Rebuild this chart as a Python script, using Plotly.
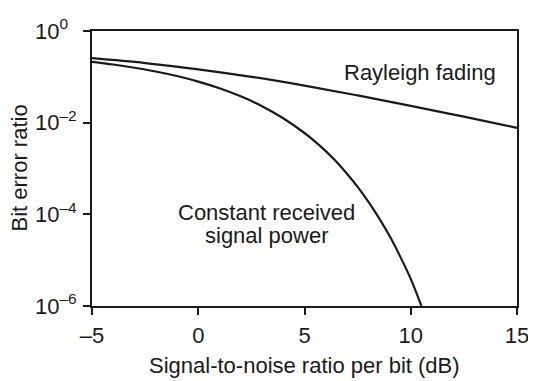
import plotly.graph_objects as go

# Data
snr_const = [-5, -4, -3, -2, -1, 0, 1, 2, 3, 4, 5, 5.5, 6, 6.5, 7, 7.5, 8, 8.5, 9, 9.5, 10, 10.5]
ber_const = [0.213, 0.186, 0.158, 0.131, 0.104, 0.0786, 0.0563, 0.0375, 0.0229, 0.0125,
             0.00595, 0.00386, 0.00239, 0.0014, 7.7e-4, 3.98e-4, 1.9e-4, 8.4e-5, 3.4e-5,
             1.21e-5, 3.9e-6, 1.0e-6]

snr_rayleigh = [-5, -2.5, 0, 2.5, 5, 7.5, 10, 12.5, 15]
ber_rayleigh = [0.255, 0.2, 0.146, 0.1, 0.0642, 0.0393, 0.0233, 0.0135, 0.0077]

x_tickvals = [-5, 0, 5, 10, 15]
x_ticktext = ["–5", "0", "5", "10", "15"]
y_tickvals = [1, 1e-2, 1e-4, 1e-6]
y_ticktext = ["10<sup>0\u00a0\u00a0</sup>", "10<sup>–2</sup>", "10<sup>–4</sup>", "10<sup>–6</sup>"]

FONT = "Liberation Sans, Arial, Helvetica, sans-serif"
FS = 22
INK = "#1a1a1a"

fig = go.Figure()
fig.add_trace(go.Scatter(x=snr_rayleigh, y=ber_rayleigh, mode="lines",
                         line=dict(color=INK, width=2.2, shape="spline"),
                         showlegend=False, hoverinfo="skip"))
fig.add_trace(go.Scatter(x=snr_const, y=ber_const, mode="lines",
                         line=dict(color=INK, width=2.2, shape="spline"),
                         showlegend=False, hoverinfo="skip"))

axis_common = dict(showgrid=False, zeroline=False, showline=True, mirror=True,
                   linecolor=INK, linewidth=2, ticks="outside", ticklen=7,
                   tickwidth=1.5, tickcolor=INK, ticklabeloverflow="allow")

# The page body has a default 8 px margin, so the figure is 8 px smaller
fig.update_layout(
    width=528, height=373,
    margin=dict(l=84, r=12, t=7, b=75),
    paper_bgcolor="white", plot_bgcolor="white",
    font=dict(family=FONT, size=FS, color=INK),
    xaxis=dict(range=[-5, 15], tickvals=x_tickvals, ticktext=x_ticktext,
               ticklabelstandoff=2, **axis_common),
    yaxis=dict(type="log", range=[-6, 0], tickvals=y_tickvals, ticktext=y_ticktext,
               ticklabelstandoff=2, **axis_common),
    annotations=[
        dict(text="Rayleigh fading", x=10.44, y=-0.907, xref="x", yref="y",
             showarrow=False, xanchor="center", yanchor="middle"),
        dict(text="Constant received", x=3.22, y=-3.97, xref="x", yref="y",
             showarrow=False, xanchor="center", yanchor="middle"),
        dict(text="signal power", x=3.22, y=-4.47, xref="x", yref="y",
             showarrow=False, xanchor="center", yanchor="middle"),
        dict(text="Signal-to-noise ratio per bit (dB)", x=0.5, y=0, xref="paper", yref="paper",
             showarrow=False, xanchor="center", yanchor="middle", yshift=-59),
        dict(text="Bit error ratio", x=0, y=0.5, xref="paper", yref="paper",
             showarrow=False, xanchor="center", yanchor="middle", xshift=-73, textangle=-90),
    ],
)

fig.write_html("out.html")
